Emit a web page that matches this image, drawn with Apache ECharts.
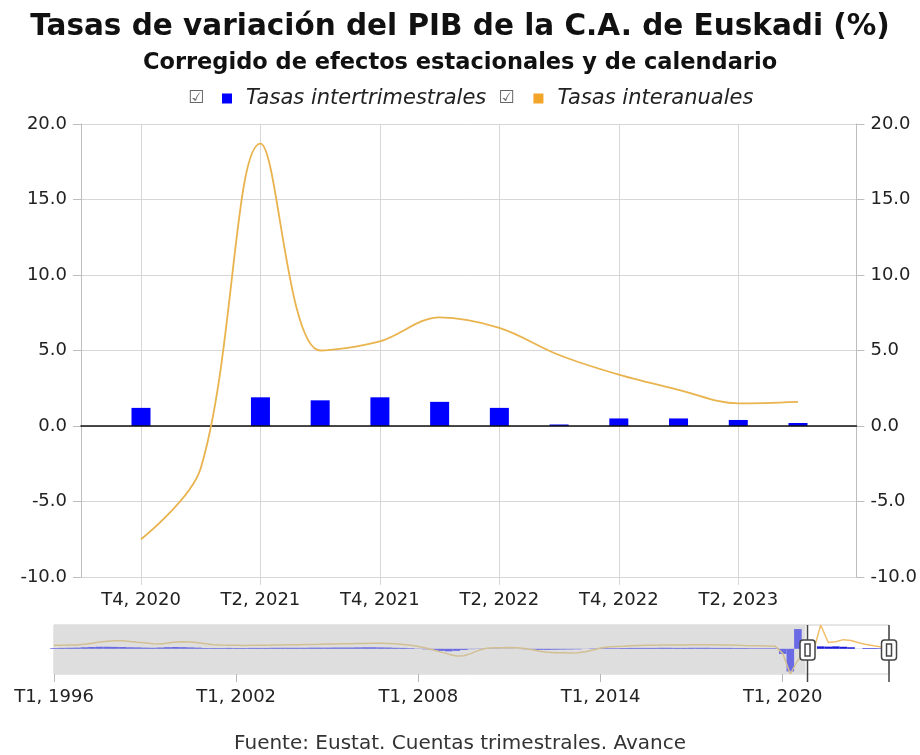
<!DOCTYPE html>
<html><head><meta charset="utf-8">
<script src="https://cdn.jsdelivr.net/npm/echarts@6/dist/echarts.min.js"></script>
<style>html,body{margin:0;padding:0;background:#fff}#c{width:920px;height:755px}</style>
</head><body><div id="c"></div>
<script>
// ---- data ----
const startYear = 1996;
const quarterCount = 111; // T1 1996 .. T3 2023
const quarters = [];
for (let i = 0; i < quarterCount; i++) quarters.push('T' + (i % 4 + 1) + ', ' + (startYear + Math.floor(i / 4)));

const seriesNames = ['Tasas intertrimestrales', 'Tasas interanuales'];

const intertrimestral = [
  0.6, 0.7, 0.8, 0.9,   1.2, 1.4, 1.6, 1.6,   1.5, 1.4, 1.2, 1.1,   0.9, 0.8, 1.0, 1.3,
  1.4, 1.3, 1.1, 0.9,   0.6, 0.6, 0.6, 0.7,   0.6, 0.6, 0.7, 0.7,   0.7, 0.8, 0.8, 0.8,
  0.8, 0.8, 0.9, 0.9,   0.9, 1.0, 1.0, 1.0,   1.1, 1.2, 1.2, 1.1,   1.0, 0.8, 0.7, 0.5,
  0.2, -0.4, -1.0, -1.6, -2.0, -1.6, -0.9, -0.3, 0.2, 0.4, 0.3, 0.2,  0.2, 0.1, -0.3, -0.6,
  -0.8, -0.8, -0.7, -0.6, -0.5, -0.4, -0.1, 0.3, 0.5, 0.5, 0.5, 0.6,  0.7, 0.7, 0.7, 0.7,
  0.8, 0.8, 0.7, 0.7,   0.8, 0.8, 0.8, 0.7,   0.7, 0.7, 0.6, 0.6,   0.5, 0.5, 0.5, 0.5,
  -4.0, -17.8, 15.5, 1.2, 0.0, 1.9, 1.7, 1.9,  1.6, 1.2, 0.1, 0.5,   0.5, 0.4, 0.2
];
const interanual = [
  2.8, 2.8, 2.9, 3.0,   3.6, 4.4, 5.3, 6.0,   6.4, 6.3, 5.8, 5.2,   4.7, 4.0, 3.8, 4.5,
  5.3, 5.6, 5.4, 4.8,   3.9, 3.2, 2.9, 2.8,   2.7, 2.6, 2.7, 2.8,   2.8, 2.9, 3.0, 3.1,
  3.2, 3.3, 3.4, 3.5,   3.7, 3.8, 3.9, 4.0,   4.1, 4.2, 4.3, 4.3,   4.2, 3.9, 3.4, 2.8,
  1.8, 0.6, -1.0, -2.6, -4.2, -5.6, -5.4, -3.6, -1.0, 0.4, 0.8, 0.9, 1.0, 0.8, 0.2, -0.8,
  -1.9, -2.7, -3.1, -3.2, -3.3, -3.1, -2.4, -1.0, 0.6, 1.4, 1.8, 2.0, 2.3, 2.5, 2.7, 2.8,
  2.9, 3.0, 3.0, 3.0,   3.1, 3.2, 3.2, 3.1,   3.0, 2.9, 2.7, 2.5,   2.4, 2.3, 2.2, 2.1,
  -3.6, -19.8, -8.6, -7.5, -2.8, 18.7, 5.0, 5.6, 7.2, 6.5, 4.7, 3.4,  2.4, 1.5, 1.6
];

const windowStart = 'T4, 2020';
const windowEnd = 'T3, 2023';
const mainLabelStep = 2;
const navLabelStep = 24;
const yMin = -10, yMax = 20, yStep = 5;

// ---- styles ----
const FONT = 'DejaVu Sans';
const BLUE = '#0000ff';
const ORANGE = '#e9b34e';
const GRID = '#d6d6d6';
const AXIS = '#bdbdbd';
const TXT = '#222';

const wStart = quarters.indexOf(windowStart);
const wEnd = quarters.indexOf(windowEnd);
const mainEvery = (i) => i >= wStart && (i - wStart) % mainLabelStep === 0;
const navEvery = (i) => i % navLabelStep === 0;
const frac = wStart / (quarters.length - 1);

const chart = echarts.init(document.getElementById('c'), null, {renderer: 'canvas'});
const option = {
  animation: false,
  backgroundColor: '#fff',
  title: [
    {text: 'Tasas de variación del PIB de la C.A. de Euskadi (%)', left: 'center', top: 7,
     textStyle: {fontFamily: FONT, fontSize: 29.5, fontWeight: 'bold', color: '#111'}},
    {text: 'Corregido de efectos estacionales y de calendario', left: 'center', top: 47,
     textStyle: {fontFamily: FONT, fontSize: 22.5, fontWeight: 'bold', color: '#111'}},
    {text: 'Fuente: Eustat. Cuentas trimestrales. Avance', left: 'center', top: 729,
     textStyle: {fontFamily: FONT, fontSize: 20, fontWeight: 'normal', color: '#333'}}
  ],
  legend: {
    left: 222, top: 88, padding: 0, itemWidth: 10, itemHeight: 10, itemGap: 19, icon: 'rect',
    data: [{name: seriesNames[0], itemStyle: {color: BLUE}}, {name: seriesNames[1], itemStyle: {color: '#f3a529'}}],
    formatter: (n) => n === seriesNames[0] ? '{t|' + n + '}{c|☑}' : '{t|' + n + '}',
    textStyle: {fontFamily: FONT, fontSize: 21, fontStyle: 'italic', color: TXT,
      rich: {
        t: {fontFamily: FONT, fontSize: 21, fontStyle: 'italic', color: TXT, padding: [0, 0, 0, 9]},
        c: {fontFamily: FONT, fontSize: 18, fontStyle: 'normal', color: '#666', padding: [0, 0, 0, 12]}
      }}
  },
  graphic: [{type: 'text', left: 188, top: 89, style: {text: '☑', fontFamily: FONT, fontSize: 18, fill: '#666'}}],
  grid: [
    {left: 81, right: 62, top: 124, height: 453},
    {left: 141, right: 122, top: 124, height: 453},
    {left: 54, right: 31, top: 625, height: 49, show: true, backgroundColor: 'rgba(0,0,0,0)', borderColor: '#cccccc', borderWidth: 1}
  ],
  xAxis: [
    {type: 'value', gridIndex: 0, min: 0, max: 1, z: 3,
     axisLine: {show: true, onZero: true, lineStyle: {color: '#111', width: 1.5}},
     axisTick: {show: false}, axisLabel: {show: false}, splitLine: {show: false}},
    {type: 'category', gridIndex: 1, data: quarters, boundaryGap: false,
     axisLine: {show: false, onZero: false},
     axisTick: {show: true, length: 8, interval: mainEvery, lineStyle: {color: GRID}},
     axisLabel: {interval: mainEvery, margin: 14, fontFamily: FONT, fontSize: 18, color: TXT},
     splitLine: {show: true, interval: mainEvery, lineStyle: {color: GRID}}},
    {type: 'category', gridIndex: 2, data: quarters, boundaryGap: false,
     axisLine: {show: false, onZero: false},
     axisTick: {show: true, length: 8, interval: navEvery, lineStyle: {color: '#b8b8b8'}},
     axisLabel: {interval: navEvery, margin: 14, fontFamily: FONT, fontSize: 18, color: TXT},
     splitLine: {show: true, interval: navEvery, lineStyle: {color: '#b8b8b8'}}}
  ],
  yAxis: [
    {type: 'value', gridIndex: 0, position: 'left', min: yMin, max: yMax, interval: yStep,
     axisLine: {show: true, lineStyle: {color: AXIS}},
     axisTick: {show: true, length: 8, lineStyle: {color: AXIS}},
     axisLabel: {margin: 14, fontFamily: FONT, fontSize: 18, color: TXT, formatter: (v) => v.toFixed(1)},
     splitLine: {show: true, lineStyle: {color: GRID}}},
    {type: 'value', gridIndex: 0, position: 'right', min: yMin, max: yMax, interval: yStep,
     axisLine: {show: true, lineStyle: {color: AXIS}},
     axisTick: {show: true, length: 8, lineStyle: {color: AXIS}},
     axisLabel: {margin: 14, fontFamily: FONT, fontSize: 18, color: TXT, formatter: (v) => v.toFixed(1)},
     splitLine: {show: false}},
    {type: 'value', gridIndex: 1, min: yMin, max: yMax, show: false},
    {type: 'value', gridIndex: 2, min: 'dataMin', max: 'dataMax', show: false}
  ],
  dataZoom: [{
    type: 'slider', xAxisIndex: 1, filterMode: 'filter',
    startValue: windowStart, endValue: windowEnd,
    left: 54, right: 31, top: 625, height: 57,
    showDataShadow: false, showDetail: false, brushSelect: false,
    moveHandleSize: 0,
    backgroundColor: 'rgba(0,0,0,0)', fillerColor: 'rgba(0,0,0,0)', borderColor: 'rgba(0,0,0,0)',
    handleIcon: 'path://M0,0L0,22M0,42L0,57M-4.5,22H4.5A3,3,0,0,1,7.5,25V39A3,3,0,0,1,4.5,42H-4.5A3,3,0,0,1,-7.5,39V25A3,3,0,0,1,-4.5,22ZM-2.5,26H2.5V38H-2.5Z',
    handleSize: '100%',
    handleStyle: {color: '#fff', borderColor: '#444', borderWidth: 1.5},
    emphasis: {handleStyle: {color: '#fff', borderColor: '#444', borderWidth: 1.5}}
  }],
  series: [
    {name: seriesNames[0], type: 'bar', xAxisIndex: 1, yAxisIndex: 2, data: intertrimestral,
     barWidth: 19, clip: false, itemStyle: {color: BLUE}},
    {name: seriesNames[1], type: 'line', xAxisIndex: 1, yAxisIndex: 2, data: interanual,
     smooth: 0.35, showSymbol: false, symbol: 'none', itemStyle: {color: ORANGE},
     lineStyle: {color: ORANGE, width: 1.8}, z: 4},
    {name: 'nav-inter', type: 'bar', xAxisIndex: 2, yAxisIndex: 3, data: intertrimestral,
     barCategoryGap: '0%', silent: true,
     itemStyle: {color: (p) => p.dataIndex >= wStart ? '#1a1ad8' : '#6a6ae4'}},
    {name: 'nav-anual', type: 'line', xAxisIndex: 2, yAxisIndex: 3, data: interanual,
     symbol: 'none', silent: true, z: 3,
     lineStyle: {width: 1.5, color: {type: 'linear', x: 0, y: 0, x2: 1, y2: 0, colorStops: [
       {offset: 0, color: '#d2bf93'}, {offset: frac, color: '#d2bf93'},
       {offset: frac, color: '#f0be6a'}, {offset: 1, color: '#f0be6a'}]}},
     markArea: {silent: true, itemStyle: {color: '#dedede', opacity: 1}, label: {show: false},
       data: [[{xAxis: 0}, {xAxis: wStart}]]}}
  ]
};
chart.setOption(option);
</script></body></html>
